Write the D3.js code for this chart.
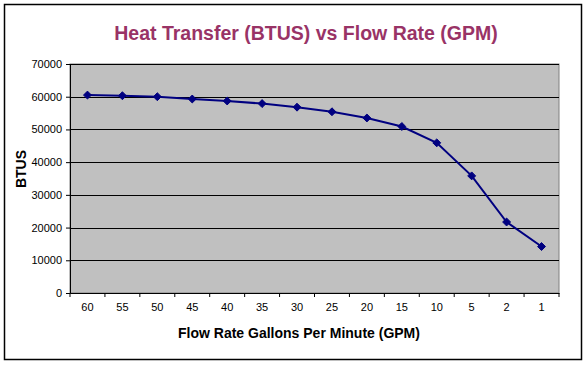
<!DOCTYPE html>
<html>
<head>
<meta charset="utf-8">
<script src="https://cdn.jsdelivr.net/npm/d3@7/dist/d3.min.js"></script>
<style>
  body { margin: 0; background: #fff; }
  text { font-family: "Liberation Sans", Arial, sans-serif; }
</style>
</head>
<body>
<div id="chart"></div>
<script>
const flowRates = ['60', '55', '50', '45', '40', '35', '30', '25', '20', '15', '10', '5', '2', '1'];
const btus = [60500, 60300, 60000, 59300, 58700, 57900, 56800, 55400, 53500, 50900, 45900, 35800, 21700, 14200];
const yTicks = [0, 10000, 20000, 30000, 40000, 50000, 60000, 70000];

const w = 586;
const h = 365;
const plotLeft = 70, plotRight = 559, plotTop = 64, plotBottom = 293;

const svg = d3.select('#chart')
              .append('svg')
              .attr('width', w)
              .attr('height', h);

// outer frame
svg.append('rect')
   .attr('x', 4.5).attr('y', 4.5)
   .attr('width', 577).attr('height', 355)
   .attr('fill', '#fff')
   .attr('stroke', '#000')
   .attr('stroke-width', 1.5);

const xScale = d3.scaleBand()
                 .domain(flowRates)
                 .range([plotLeft, plotRight])
                 .padding(0);

const yScale = d3.scaleLinear()
                 .domain([0, 70000])
                 .range([plotBottom, plotTop]);

// plot area
svg.append('rect')
   .attr('x', plotLeft).attr('y', plotTop)
   .attr('width', plotRight - plotLeft).attr('height', plotBottom - plotTop)
   .attr('fill', '#c0c0c0')
   .attr('stroke', '#808080')
   .attr('stroke-width', 1);

// gridlines
svg.append('g')
   .selectAll('line')
   .data(yTicks.filter(d => d > 0))
   .enter()
   .append('line')
   .attr('x1', plotLeft).attr('x2', plotRight)
   .attr('y1', d => Math.round(yScale(d)) + 0.5)
   .attr('y2', d => Math.round(yScale(d)) + 0.5)
   .attr('stroke', '#000')
   .attr('stroke-width', 1);

const yAxis = d3.axisLeft(yScale)
                .tickValues(yTicks)
                .tickFormat(d3.format('d'))
                .tickSize(4)
                .tickPadding(4);

svg.append('g')
   .attr('id', 'y-axis')
   .attr('transform', `translate(${plotLeft}, 0)`)
   .call(yAxis)
   .call(g => g.selectAll('text').attr('font-size', 11).attr('font-family', '"Liberation Sans", Arial, sans-serif'));

const xAxis = d3.axisBottom(xScale)
                .tickSize(0)
                .tickPadding(10);

svg.append('g')
   .attr('id', 'x-axis')
   .attr('transform', `translate(0, ${plotBottom})`)
   .call(xAxis)
   .call(g => g.selectAll('text').attr('font-size', 11).attr('font-family', '"Liberation Sans", Arial, sans-serif'));

// category boundary ticks
svg.append('g')
   .selectAll('line')
   .data(flowRates.map(d => xScale(d)).concat([plotRight]))
   .enter()
   .append('line')
   .attr('x1', d => d).attr('x2', d => d)
   .attr('y1', plotBottom).attr('y2', plotBottom + 4)
   .attr('stroke', '#000');

svg.selectAll('.domain').attr('stroke', '#000');

const line = d3.line()
               .x((d, i) => xScale(flowRates[i]) + xScale.bandwidth() / 2)
               .y(d => yScale(d));

svg.append('path')
   .datum(btus)
   .attr('d', line)
   .attr('fill', 'none')
   .attr('stroke', '#000080')
   .attr('stroke-width', 2);

svg.selectAll('.marker')
   .data(btus)
   .enter()
   .append('path')
   .attr('class', 'marker')
   .attr('d', d3.symbol().type(d3.symbolDiamond2).size(40))
   .attr('transform', (d, i) => `translate(${xScale(flowRates[i]) + xScale.bandwidth() / 2}, ${yScale(d)})`)
   .attr('fill', '#000080')
   .attr('stroke', '#000080')
   .attr('stroke-width', 1);

svg.append('text')
   .attr('x', 306)
   .attr('y', 40)
   .attr('text-anchor', 'middle')
   .attr('font-size', 19.5)
   .attr('font-weight', 'bold')
   .attr('fill', '#993366')
   .text('Heat Transfer (BTUS) vs Flow Rate (GPM)');

svg.append('text')
   .attr('x', 299)
   .attr('y', 338)
   .attr('text-anchor', 'middle')
   .attr('font-size', 14)
   .attr('font-weight', 'bold')
   .text('Flow Rate Gallons Per Minute (GPM)');

svg.append('text')
   .attr('transform', 'translate(26, 169) rotate(-90)')
   .attr('text-anchor', 'middle')
   .attr('font-size', 14)
   .attr('font-weight', 'bold')
   .text('BTUS');
</script>
</body>
</html>
